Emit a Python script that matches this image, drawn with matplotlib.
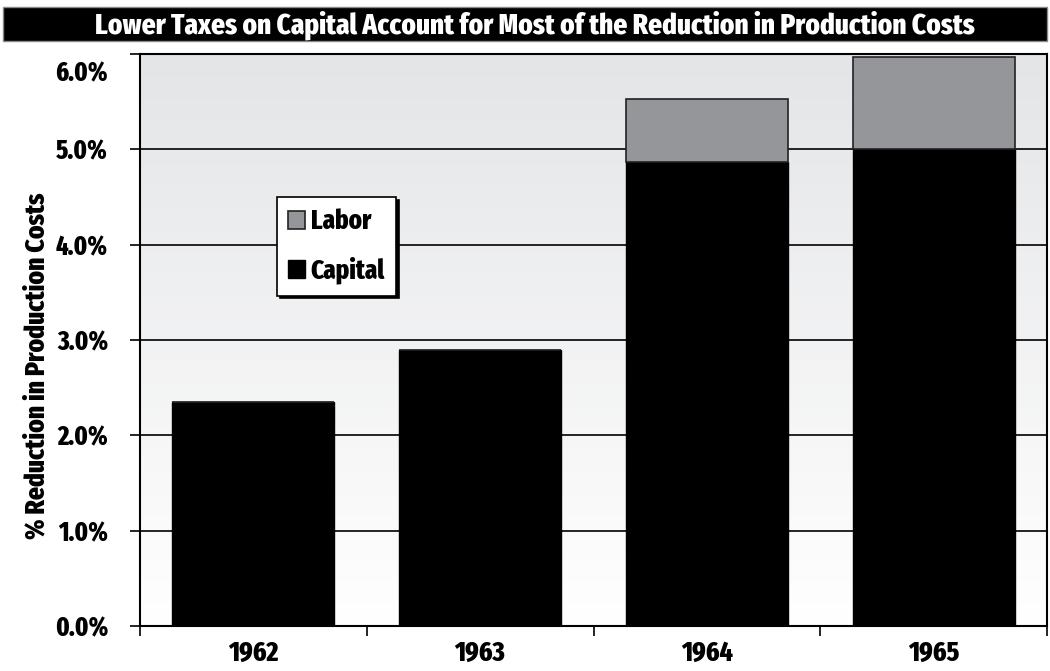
import numpy as np
import matplotlib.pyplot as plt
from matplotlib.patches import Rectangle
from matplotlib.colors import LinearSegmentedColormap
from matplotlib.ticker import FuncFormatter
from matplotlib.transforms import ScaledTranslation

years = ['1962', '1963', '1964', '1965']
capital = [2.35, 2.90, 4.87, 5.00]
labor = [0.0, 0.0, 0.66, 0.97]
yticks = [0, 1, 2, 3, 4, 5, 6]

plt.rcParams['font.family'] = ['Fira Sans Extra Condensed', 'DejaVu Sans']
plt.rcParams['font.weight'] = 800

fig = plt.figure(figsize=(10.5, 6.71), dpi=100)
fig.patch.set_facecolor('white')

# title bar
fig.patches.append(Rectangle((3 / 1050, 1 - 41 / 671), 1044 / 1050, 34 / 671,
                             transform=fig.transFigure, facecolor='black',
                             edgecolor='#888888', lw=1))
fig.text(535 / 1050, 1 - 25 / 671, 'Lower Taxes on Capital Account for Most of the Reduction in Production Costs',
         color='white', ha='center', va='center', fontsize=21.2, fontweight=800)

ax = fig.add_axes([140 / 1050, 45 / 671, 907 / 1050, 572 / 671])

# gradient background
grad = np.linspace(0, 1, 256).reshape(-1, 1)
cmap = LinearSegmentedColormap.from_list('g', ['#ffffff', '#e4e5e7'])
ax.imshow(grad, extent=[0, 1, 0, 1], transform=ax.transAxes, aspect='auto',
          cmap=cmap, origin='lower', zorder=0)

x = np.arange(len(years))
ax.set_ylim(0, 6.0)
ax.set_xlim(-0.5, len(years) - 0.5)

for t in yticks[1:]:
    ax.axhline(t, color='black', lw=1.2, zorder=1)

ax.bar(x, capital, width=0.715, color='black', edgecolor='black', lw=1, zorder=2, label='Capital')
ax.bar(x, labor, width=0.715, bottom=capital, color='#959699', edgecolor='#222222', lw=1.2,
       zorder=2, label='Labor')

ax.set_yticks(yticks)
ax.yaxis.set_major_formatter(FuncFormatter(lambda v, p: f'{v:.1f}%'))
ax.set_xticks(x)
ax.set_xticklabels(years)
ax.set_xticks(np.arange(-0.5, len(years)), minor=True)
ax.tick_params(axis='x', which='major', length=0, pad=10, labelsize=20)
ax.tick_params(axis='x', which='minor', length=7, width=1.2, direction='out')
ax.tick_params(axis='y', length=7, width=1.2, direction='out', pad=16, labelsize=19)
for s in ax.spines.values():
    s.set_linewidth(1.5)
    s.set_zorder(3)

# top tick label sits a little below the frame in the original
top = ax.get_yticklabels()[-1]
top.set_transform(top.get_transform() + ScaledTranslation(0, -0.17, fig.dpi_scale_trans))

ax.set_ylabel('% Reduction in Production Costs', fontsize=20, fontweight=800)
ax.yaxis.set_label_coords(-0.099, 0.455)

handles, labels = ax.get_legend_handles_labels()
leg = ax.legend(handles[::-1], labels[::-1], loc='upper left', bbox_to_anchor=(0.151, 0.75),
                prop={'weight': 800, 'size': 19.5}, frameon=True, fancybox=False,
                shadow={'color': 'black', 'alpha': 1}, handlelength=0.62, handleheight=0.62,
                handletextpad=0.2, borderpad=0.42, labelspacing=0.8, borderaxespad=0)
leg.get_frame().set_edgecolor('black')
leg.get_frame().set_linewidth(1.2)
leg.set_zorder(5)

fig.savefig('out.png', dpi=100)
